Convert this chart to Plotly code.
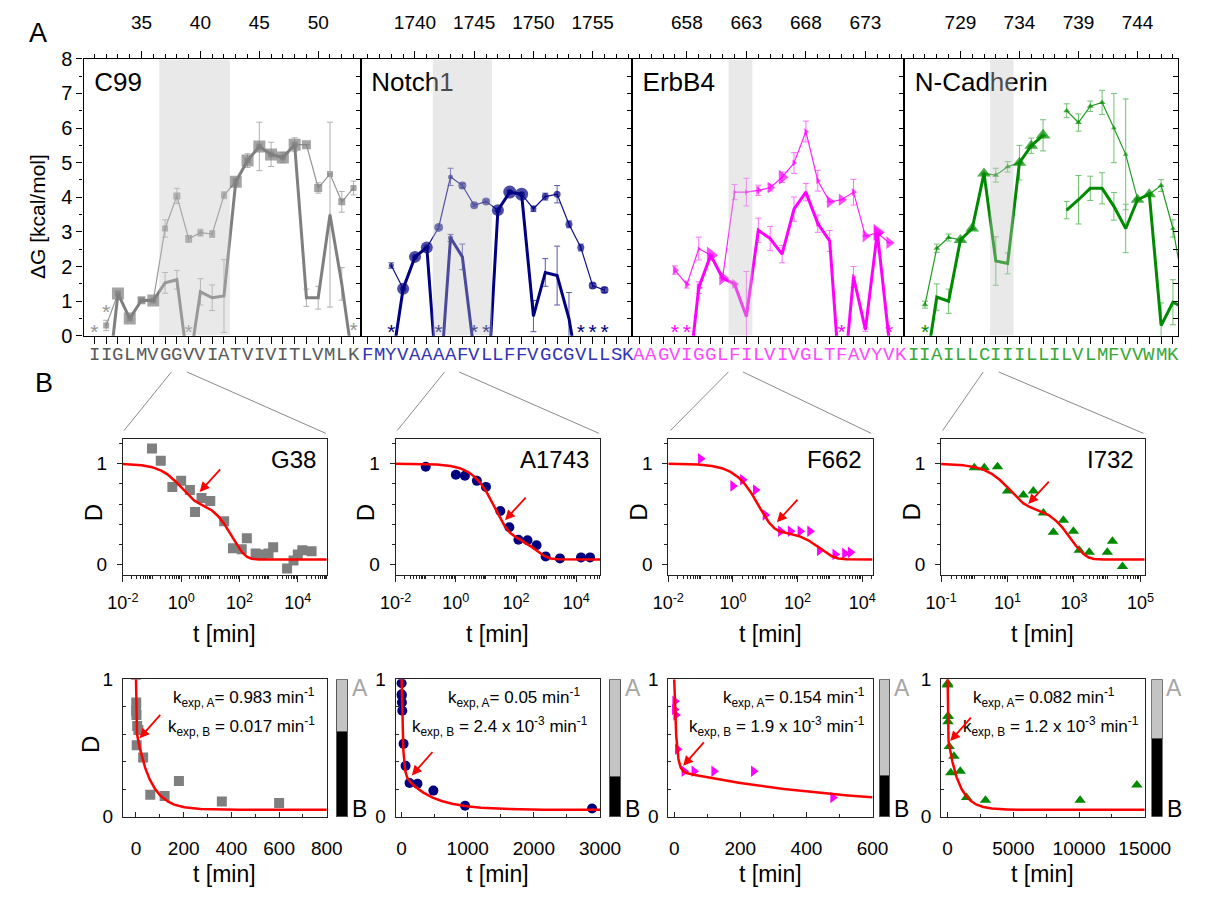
import numpy as np
import plotly.graph_objects as go

W, H = 1211, 897
SANS = "Liberation Sans, Arial, sans-serif"
MONO = "Liberation Mono, Courier New, monospace"

# ====================== Panel A data ======================
panel_names = ["C99", "Notch1", "ErbB4", "N-Cadherin"]

c99_res = list(range(31, 54))
c99_seq = list("IIGLMVGGVVIATVIVITLVMLK")
c99_thin = [None, 0.30, 1.22, 0.50, 1.03, 1.02, 3.10, 4.04, 2.80, 2.98, 2.94, 4.06,
            4.45, 5.06, 5.47, 5.24, 5.15, 5.52, 5.52, 4.27, 4.67, 3.87, 4.27]
c99_thin_err = [None, 0.15, None, None, None, None, 0.25, 0.22, 0.10, 0.10, 0.10, 0.10,
                0.10, 0.20, 0.70, 0.35, 0.15, 0.20, None, 0.15, None, 0.30, 0.20]
c99_thick = [None, -1.8, 1.22, 0.50, 1.03, 1.02, 1.53, 1.62, -1.0, 1.27, 1.10, 1.15,
             4.45, 5.06, 5.47, 5.24, 5.15, 5.52, 1.10, 1.10, 3.50, 1.50, -0.9]
c99_thick_err = [None, None, None, None, 0.05, None, 0.30, 0.27, None, 0.38, 0.37, 1.05,
                 None, None, None, None, None, None, 0.25, 0.33, 2.67, 0.47, None]
c99_star_res = [31, 32, 39, 53]
c99_star_y = [0.2, 0.77, 0.2, 0.25]

n1_res = list(range(1736, 1759))
n1_seq = list("FMYVAAAAFVLLFFVGCGVLLSK")
n1_thin = [None, None, 2.03, 1.36, 2.28, 2.55, 3.13, 4.59, 4.34, 3.77, 3.88, 3.63,
           4.15, 4.09, 3.67, 4.02, 4.09, 3.22, 2.55, 1.45, 1.32, None, None]
n1_thin_err = [None, None, 0.08, None, None, None, 0.05, 0.25, 0.07, 0.04, 0.04, None,
               0.05, 0.05, 0.08, 0.10, 0.25, 0.10, 0.10, 0.07, 0.07, None, None]
n1_thick = [None, None, -0.9, 1.36, 2.28, 2.55, -2.0, 2.83, 2.28, -0.5, -2.4, 3.63,
            4.15, 4.09, 0.57, 1.83, 1.74, 0.50, -1.5, None, None, None, None]
n1_thick_err = [None, None, None, None, None, None, None, 0.10, 0.37, None, None, None,
                None, None, 0.45, 0.40, 0.85, 0.75, None, None, None, None, None]
n1_star_res = [1738, 1742, 1745, 1746, 1754, 1755, 1756]
n1_star_y = [0.2, 0.2, 0.2, 0.2, 0.2, 0.2, 0.2]

eb_res = list(range(654, 677))
eb_seq = list("AAGVIGGLFILVIVGLTFAVYVK")
eb_thin = [None, None, None, 1.90, 1.48, 2.52, 2.33, 1.67, 4.15, 4.15, 4.20, 4.28,
           4.58, 4.99, 5.90, 4.48, 3.87, 3.93, 4.15, 2.88, 2.97, 2.69, None]
eb_thin_err = [None, None, None, 0.12, 0.10, 0.33, None, None, 0.22, 0.40, 0.15, 0.10,
               0.15, 0.30, 0.30, 0.30, None, None, 0.37, None, None, None, None]
eb_thick = [None, None, None, None, -1.7, 1.39, 2.33, 1.67, 1.50, 0.56, 3.05, 2.81,
            2.36, 3.66, 4.15, 3.24, 2.74, -2.0, 1.70, 0.18, 2.99, -0.15, None]
eb_thick_err = [None, None, None, None, None, 0.17, None, None, None, 1.30, 0.35, 0.35,
                0.25, 0.35, 0.25, 0.25, 0.30, None, 0.30, 0.05, None, None, None]
eb_star_res = [657, 658, 671, 675]
eb_star_y = [0.2, 0.2, 0.2, 0.2]

nc_res = list(range(725, 749))
nc_seq_res = list(range(725, 748))
nc_seq = list("IIAILLCIIILLILVLMFVVWMK")
nc_thin = [None, 0.90, 2.53, 2.84, 2.77, 3.10, 4.69, 4.64, 4.88, 5.00, 5.49, 5.79,
           None, 6.50, 6.16, 6.63, 6.74, 6.00, 5.24, 3.95, 4.09, 4.34, 3.10, 1.20]
nc_thin_err = [None, 0.10, 0.12, 0.10, None, None, None, 0.20, 0.15, None, None, None,
               None, 0.20, 0.25, 0.15, 0.35, 1.00, 1.60, None, None, 0.17, 0.25, None]
nc_thick = [None, -1.1, 1.12, 1.00, 2.77, 3.10, 4.69, 2.16, 2.09, 5.00, 5.49, 5.79,
            None, 3.63, 3.93, 4.26, 4.26, 3.74, 3.10, 3.93, 4.09, 0.30, 0.97, 0.80]
nc_thick_err = [None, None, 0.38, 0.35, None, None, None, 0.70, 0.30, 0.50, 0.22, 0.45,
                None, 0.25, 0.70, 0.35, 0.45, 0.40, 0.70, None, None, 0.65, 0.65, None]
nc_star_res = [726]
nc_star_y = [0.2]

shade_lo = [36.5, 1741.5, 661.5, 731.5]
shade_hi = [42.5, 1746.5, 663.5, 733.5]
top_tick0 = [35, 1740, 658, 729]

# ====================== Panel B data ======================
site_names = ["G38", "A1743", "F662", "I732"]
g38_t = [0.1, 0.2, 0.5, 1, 2, 3, 5, 10, 30, 60, 120, 180, 360, 600, 1000, 1440,
         4320, 7200, 10080, 14400, 30000]
g38_D = [1.15, 1.03, 0.77, 0.83, 0.74, 0.52, 0.66, 0.63, 0.43, 0.16, 0.15, 0.26,
         0.11, 0.10, 0.11, 0.17, -0.04, 0.04, 0.10, 0.14, 0.13]
a1743_t = [0.1, 1, 2, 5, 10, 30, 60, 120, 240, 480, 960, 2880, 14400, 28800]
a1743_D = [0.97, 0.89, 0.88, 0.83, 0.77, 0.53, 0.37, 0.245, 0.24, 0.19, 0.08, 0.06,
           0.07, 0.07]
f662_t = [0.1, 1, 2, 5, 10, 30, 60, 120, 240, 480, 1440, 2880, 4320]
f662_D = [1.05, 0.78, 0.84, 0.74, 0.49, 0.33, 0.33, 0.33, 0.33, 0.14, 0.10, 0.11, 0.12]
i732_t = [1, 2, 5, 10, 30, 60, 120, 240, 480, 960, 1440, 2880, 10080, 14400, 28800]
i732_D = [0.96, 0.96, 0.97, 0.73, 0.69, 0.73, 0.51, 0.32, 0.44, 0.33, 0.14, 0.12,
          0.12, 0.23, -0.02]

k_A = [0.983, 0.05, 0.154, 0.082]
k_B = [0.017, 2.4e-3, 1.9e-3, 1.2e-3]
frac_B = [0.62, 0.29, 0.30, 0.57]
plateau = 0.05
kA_text = ["0.983", "0.05", "0.154", "0.082"]
kB_text = ["0.017", "2.4 x 10<sup>-3</sup>", "1.9 x 10<sup>-3</sup>", "1.2 x 10<sup>-3</sup>"]

# ====================== styles ======================
colors = ["#7f7f7f", "#000080", "#ff00ff", "#008a00"]
thin_colors = ["#959595", "#10108a", "#ff22ff", "#209a20"]
err_colors = ["#b0b0b0", "#5858b0", "#ff70ff", "#72c272"]
seq_colors = ["#5a5a5a", "#3434b4", "#ff48ff", "#38a838"]
star_colors = ["#959595", "#000080", "#ff00ff", "#008a00"]
symbols = ["square", "circle", "triangle-right", "triangle-up"]

c99_thin_size = [0, 6, 6, 6, 6, 6, 6, 7, 7, 6, 6, 6, 6, 6, 6, 6, 6, 6, 9, 8, 6, 7, 6]
c99_thick_size = [0, 0, 12, 12, 8, 12, 2, 2, 0, 2, 2, 2, 12, 12, 12, 12, 12, 12, 2, 2, 2, 2, 0]
n1_thin_size = [0, 0, 5, 6, 6, 6, 9, 5, 8, 8, 8, 6, 6, 6, 6, 7, 7, 7, 7, 8, 8, 0, 0]
n1_thick_size = [0, 0, 0, 12, 12, 12, 0, 5, 2, 0, 0, 12, 13, 13, 2, 2, 2, 2, 0, 0, 0, 0, 0]
eb_thin_size = [0, 0, 0, 8, 7, 4, 6, 6, 4, 5, 8, 10, 13, 6, 6, 6, 11, 11, 7, 11, 13, 11, 0]
eb_thick_size = [0, 0, 0, 0, 0, 8, 15, 13, 9, 2, 3, 3, 2, 3, 3, 6, 2, 0, 6, 2, 15, 0, 0]
nc_thin_size = [0, 6, 6, 6, 6, 6, 6, 6, 6, 6, 6, 6, 0, 6, 6, 6, 6, 5, 5, 6, 6, 6, 5, 0]
nc_thick_size = [0, 0, 2, 2, 12, 12, 12, 2, 2, 12, 12, 13, 0, 2, 2, 2, 2, 2, 2, 12, 12, 2, 2, 0]

top_sets = [
    (c99_res, c99_res, c99_seq, c99_thin, c99_thin_err, c99_thin_size, c99_thick, c99_thick_err, c99_thick_size, c99_star_res, c99_star_y),
    (n1_res, n1_res, n1_seq, n1_thin, n1_thin_err, n1_thin_size, n1_thick, n1_thick_err, n1_thick_size, n1_star_res, n1_star_y),
    (eb_res, eb_res, eb_seq, eb_thin, eb_thin_err, eb_thin_size, eb_thick, eb_thick_err, eb_thick_size, eb_star_res, eb_star_y),
    (nc_res, nc_seq_res, nc_seq, nc_thin, nc_thin_err, nc_thin_size, nc_thick, nc_thick_err, nc_thick_size, nc_star_res, nc_star_y),
]
kin_sets = [(g38_t, g38_D), (a1743_t, a1743_D), (f662_t, f662_D), (i732_t, i732_D)]

# ====================== geometry (pixels) ======================
TOP_X = [(70, 357), (357, 638), (638, 920), (920, 1204)]
TOP_Y = (49, 333)
X_RANGES = [(30.08, 53.6), (1735.41, 1758.31), (653.38, 676.25), (724.23, 747.45)]
MID_X = [(110.7, 322), (393.3, 605), (675.7, 887.3), (958.3, 1169.3)]
MID_Y = (438.3, 577.7)
MID_RANGES = [(-2, 5), (-2, 4.79), (-2, 4.32), (-1, 5.13)]
BOT_Y = (685, 826)
BOT_RANGES = [(-55, 800), (-90, 3000), (-18, 600), (-500, 15000)]
BOT_DTICK = [200, 1000, 200, 5000]
BAR_X = [(331, 344), (614, 627), (893.5, 905.5), (1176, 1188)]


def px(p):
    return p / W


def py(p):
    return 1 - p / H


def xn(n):
    return "x" if n == 1 else f"x{n}"


def yn(n):
    return "y" if n == 1 else f"y{n}"


def xa(n):
    return "xaxis" if n == 1 else f"xaxis{n}"


def ya(n):
    return "yaxis" if n == 1 else f"yaxis{n}"


fig = go.Figure()
lay = dict(width=W, height=H, margin=dict(l=0, r=0, t=0, b=0),
           paper_bgcolor="white", plot_bgcolor="white", showlegend=False,
           barmode="stack", font=dict(family=SANS, color="black"))
shapes = []
ann = []


def add_text(xp, yp, text, size, color="black", xanchor="center", angle=0):
    ann.append(dict(x=px(xp), y=py(yp), xref="paper", yref="paper", text=text,
                    showarrow=False, xanchor=xanchor, yanchor="middle",
                    textangle=angle, font=dict(size=size, color=color, family=SANS)))


# ====================== Panel A ======================
for i in range(4):
    n, nb = i + 1, i + 5
    res, seq_res, seq, thin, thin_err, thin_size, thick, thick_err, thick_size, s_res, s_y = top_sets[i]
    lo, hi = X_RANGES[i]
    x0, x1 = TOP_X[i]
    lay[xa(n)] = dict(domain=[px(x0), px(x1)], range=[lo, hi], side="top", anchor=yn(n),
                      showline=True, linecolor="black", linewidth=1.2, mirror=True,
                      ticks="outside", tickmode="linear", tick0=top_tick0[i], dtick=5,
                      ticklen=7, tickwidth=1.2, tickcolor="black",
                      tickfont=dict(size=19), ticklabelstandoff=14,
                      minor=dict(ticks="outside", tickmode="linear", tick0=top_tick0[i],
                                 dtick=1, ticklen=3.5, tickwidth=1, tickcolor="black"),
                      showgrid=False, zeroline=False)
    lay[xa(nb)] = dict(overlaying=xn(n), side="bottom", anchor=yn(n), range=[lo, hi],
                       showline=False, ticks="outside", tickmode="linear", tick0=seq_res[0],
                       dtick=1, ticklen=7, tickwidth=1, tickcolor="black",
                       showticklabels=False, showgrid=False, zeroline=False)
    ydict = dict(domain=[py(TOP_Y[1]), py(TOP_Y[0])], range=[0, 8], anchor=xn(n),
                 showline=True, linecolor="black", linewidth=1.2, mirror=True,
                 showticklabels=(i == 0), showgrid=False, zeroline=False)
    if i == 0:
        ydict.update(ticks="outside", tickmode="linear", tick0=0, dtick=1, ticklen=6,
                     tickwidth=1.2, tickcolor="black", tickfont=dict(size=20),
                     minor=dict(ticks="outside", dtick=0.5, ticklen=3, tickcolor="black",
                                tickwidth=1))
    else:
        ydict.update(ticks="")
    lay[ya(n)] = ydict
    lay[ya(nb)] = dict(overlaying=yn(n), side="right", anchor=xn(n), range=[0, 8],
                       ticks="inside", tickmode="linear", tick0=0, dtick=0.5, ticklen=5,
                       tickwidth=1, tickcolor="black", showticklabels=False,
                       showline=False, showgrid=False, zeroline=False)

    # dummy traces to register the overlay axes
    fig.add_trace(go.Scatter(x=[None], y=[None], xaxis=xn(nb), yaxis=yn(n), hoverinfo="skip"))
    fig.add_trace(go.Scatter(x=[None], y=[None], xaxis=xn(n), yaxis=yn(nb), hoverinfo="skip"))

    # panel title
    fig.add_trace(go.Scatter(x=[lo + 0.9], y=[7.25], mode="text", text=[panel_names[i]],
                             textposition="middle right",
                             textfont=dict(size=26, color="black", family=SANS),
                             xaxis=xn(n), yaxis=yn(n), hoverinfo="skip"))
    # thin series
    fig.add_trace(go.Scatter(
        x=res, y=thin, mode="lines+markers", xaxis=xn(n), yaxis=yn(n),
        line=dict(color=thin_colors[i], width=1.2),
        marker=dict(symbol=symbols[i], size=thin_size, color=colors[i], line=dict(width=0)),
        error_y=dict(type="data", array=thin_err, visible=True, color=err_colors[i],
                     thickness=1, width=3),
        hoverinfo="skip"))
    # thick series
    fig.add_trace(go.Scatter(
        x=res, y=thick, mode="lines+markers", xaxis=xn(n), yaxis=yn(n),
        line=dict(color=colors[i], width=3),
        marker=dict(symbol=symbols[i], size=thick_size, color=colors[i], line=dict(width=0)),
        error_y=dict(type="data", array=thick_err, visible=True, color=err_colors[i],
                     thickness=1, width=3),
        hoverinfo="skip"))
    # stars (no determinable value)
    fig.add_trace(go.Scatter(x=s_res, y=[v - 0.13 for v in s_y], mode="text",
                             text=["*"] * len(s_res), textposition="middle center",
                             textfont=dict(size=21, color=star_colors[i], family=SANS),
                             xaxis=xn(n), yaxis=yn(n), cliponaxis=False, hoverinfo="skip"))
    # sequence letters (annotations anchored on the residue axis)
    for r, letter in zip(seq_res, seq):
        ann.append(dict(x=r, y=py(353), xref=xn(n), yref="paper", text=letter,
                        showarrow=False, xanchor="center", yanchor="middle",
                        font=dict(size=19, color=seq_colors[i], family=MONO)))
    shapes.append(dict(type="rect", xref=xn(n), yref="paper", x0=shade_lo[i], x1=shade_hi[i],
                       y0=py(332.4), y1=py(49.6), fillcolor="rgb(197,197,197)",
                       opacity=0.375, line=dict(width=0), layer="above"))

# ====================== Panel B: log-time row ======================
for i in range(4):
    n = 9 + i
    lo, hi = MID_RANGES[i]
    x0, x1 = MID_X[i]
    decs = [d for d in range(int(np.floor(lo)), int(np.ceil(hi)) + 1) if lo <= d <= hi]
    lab_decs = [d for d in decs if (d - lo) % 2 == 0]
    odd_decs = [d for d in decs if (d - lo) % 2 != 0]
    tickvals = [10.0 ** d for d in lab_decs]
    ticktext = [f"10<sup>{d}</sup>" for d in lab_decs]
    minor_vals = [m * 10.0 ** d for d in range(int(np.floor(lo)), int(np.ceil(hi)) + 1)
                  for m in range(2, 10) if lo <= np.log10(m * 10.0 ** d) <= hi]
    minor_vals += [10.0 ** d for d in odd_decs]
    lay[xa(n)] = dict(type="log", domain=[px(x0), px(x1)], range=[lo, hi], anchor=yn(n),
                      showline=True, linecolor="#222", linewidth=1, mirror=True,
                      ticks="outside", tickmode="array", tickvals=tickvals, ticktext=ticktext,
                      ticklen=6, tickwidth=1, tickcolor="#222", tickfont=dict(size=18),
                      ticklabelstandoff=6,
                      minor=dict(tickmode="array", tickvals=sorted(minor_vals), ticks="outside",
                                 ticklen=3.5, tickwidth=1, tickcolor="#222"),
                      showgrid=False, zeroline=False)
    lay[ya(n)] = dict(domain=[py(MID_Y[1]), py(MID_Y[0])], range=[-0.1, 1.25], anchor=xn(n),
                      showline=True, linecolor="#222", linewidth=1, mirror=True,
                      ticks="outside", tickmode="array", tickvals=[0, 1], ticktext=["0", "1"],
                      ticklen=5, tickwidth=1, tickcolor="#222", tickfont=dict(size=19),
                      ticklabelstandoff=6,
                      minor=dict(tickmode="array", tickvals=[0.2, 0.4, 0.6, 0.8, 1.2],
                                 ticks="outside", ticklen=3, tickwidth=1, tickcolor="#222"),
                      showgrid=False, zeroline=False)
    t, D = kin_sets[i]
    fig.add_trace(go.Scatter(x=t, y=D, mode="markers", xaxis=xn(n), yaxis=yn(n),
                             marker=dict(symbol=symbols[i], size=10, color=colors[i]),
                             hoverinfo="skip"))
    A = (1 - frac_B[i]) * (1 - plateau)
    B = frac_B[i] * (1 - plateau)
    tf = np.logspace(lo, hi, 500)
    Df = A * np.exp(-k_A[i] * tf) + B * np.exp(-k_B[i] * tf) + plateau
    fig.add_trace(go.Scatter(x=tf, y=Df, mode="lines", xaxis=xn(n), yaxis=yn(n),
                             line=dict(color="red", width=2.5), hoverinfo="skip"))
    add_text(x1 - 9, 460, site_names[i], 24, xanchor="right")
    add_text(x0 - 31, 514, "D", 24, angle=-90)
    add_text((x0 + x1) / 2, 639, "t [min]", 23)

# ====================== Panel B: linear-time row ======================
for i in range(4):
    n = 13 + i
    lo, hi = BOT_RANGES[i]
    x0, x1 = MID_X[i]
    lay[xa(n)] = dict(domain=[px(x0), px(x1)], range=[lo, hi], anchor=yn(n),
                      showline=True, linecolor="#222", linewidth=1, mirror=True,
                      ticks="inside", tickmode="linear", tick0=0, dtick=BOT_DTICK[i],
                      tickformat="d",
                      ticklen=5, tickwidth=1, tickcolor="#222", tickfont=dict(size=19),
                      ticklabelstandoff=14,
                      minor=dict(ticks="inside", tickmode="linear", tick0=0,
                                 dtick=BOT_DTICK[i] / 2, ticklen=3, tickwidth=1,
                                 tickcolor="#222"),
                      showgrid=False, zeroline=False)
    lay[ya(n)] = dict(domain=[py(BOT_Y[1]), py(BOT_Y[0])], range=[0, 1], anchor=xn(n),
                      showline=True, linecolor="#222", linewidth=1, mirror=True,
                      ticks="inside", tickmode="array", tickvals=[0, 1], ticktext=["0", "1"],
                      ticklen=5, tickwidth=1, tickcolor="#222", tickfont=dict(size=19),
                      ticklabelstandoff=5,
                      minor=dict(tickmode="array", tickvals=[0.2, 0.4, 0.6, 0.8],
                                 ticks="inside", ticklen=3, tickwidth=1, tickcolor="#222"),
                      showgrid=False, zeroline=False)
    t, D = kin_sets[i]
    fig.add_trace(go.Scatter(x=t, y=D, mode="markers", xaxis=xn(n), yaxis=yn(n),
                             marker=dict(symbol=symbols[i], size=10, color=colors[i]),
                             hoverinfo="skip"))
    A = (1 - frac_B[i]) * (1 - plateau)
    B = frac_B[i] * (1 - plateau)
    tf = np.linspace(0, hi, 1500)
    Df = A * np.exp(-k_A[i] * tf) + B * np.exp(-k_B[i] * tf) + plateau
    fig.add_trace(go.Scatter(x=tf, y=Df, mode="lines", xaxis=xn(n), yaxis=yn(n),
                             line=dict(color="red", width=2.5), hoverinfo="skip"))
    add_text((x0 + x1) / 2, 885, "t [min]", 23)
    # amplitude bar
    nbar = 17 + i
    b0, b1 = BAR_X[i]
    lay[xa(nbar)] = dict(domain=[px(b0), px(b1)], range=[-0.55, 0.55], anchor=yn(nbar),
                         visible=False)
    lay[ya(nbar)] = dict(domain=[py(BOT_Y[1]), py(BOT_Y[0])], range=[0, 1], anchor=xn(nbar),
                         visible=False)
    fig.add_trace(go.Bar(x=[0], y=[frac_B[i]], width=1, xaxis=xn(nbar), yaxis=yn(nbar),
                         marker=dict(color="black", line=dict(color="#555", width=1)),
                         hoverinfo="skip"))
    fig.add_trace(go.Bar(x=[0], y=[1 - frac_B[i]], width=1, xaxis=xn(nbar), yaxis=yn(nbar),
                         marker=dict(color="#c4c4c4", line=dict(color="#555", width=1)),
                         hoverinfo="skip"))
    add_text(b1 + 12, 694, "A", 23, color="#a6a6a6")
    add_text(b1 + 12, 818, "B", 23, color="black")

# k annotations
k_right1 = [312, 586, 882, 1141]
k_right2 = [312, 595, 882, 1165]
for i in range(4):
    add_text(k_right1[i], 704, f"k<sub>exp, A</sub>= {kA_text[i]} min<sup>-1</sup>", 17,
             xanchor="right")
    add_text(k_right2[i], 733, f"k<sub>exp, B</sub> = {kB_text[i]} min<sup>-1</sup>", 17,
             xanchor="right")

# red arrows (middle row: log axes -> log10 x)
mid_heads = [(4.3, 0.72), (43, 0.44), (23, 0.42), (42, 0.60)]
for i, (tx, dy) in enumerate(mid_heads):
    n = 9 + i
    ann.append(dict(x=np.log10(tx), y=dy, xref=xn(n), yref=yn(n), ax=22, ay=-24,
                    showarrow=True, arrowhead=2, arrowsize=1.1, arrowwidth=1.8,
                    arrowcolor="red", text=""))
bot_heads = [(15, 0.57), (154, 0.30), (27, 0.37), (198, 0.55)]
for i, (tx, dy) in enumerate(bot_heads):
    n = 13 + i
    ann.append(dict(x=tx, y=dy, xref=xn(n), yref=yn(n), ax=22, ay=-25,
                    showarrow=True, arrowhead=2, arrowsize=1.1, arrowwidth=1.8,
                    arrowcolor="red", text=""))

# panel letters & axis titles
add_text(23, 23, "A", 27)
add_text(29, 381, "B", 27)
add_text(23, 211, "ΔG [kcal/mol]", 21, angle=-90)
add_text(77, 752, "D", 24, angle=-90)

# connector lines from the sequence to the zoomed kinetics panels
conn = [((161, 370), (112, 430), (177, 370), (321, 433)),
        ((444, 370), (395, 430), (459, 370), (604, 433)),
        ((738, 370), (678, 430), (753, 370), (886, 433)),
        ((1002, 370), (960, 430), (1018, 370), (1168, 433))]
for a0, a1, b0_, b1_ in conn:
    for p0, p1 in ((a0, a1), (b0_, b1_)):
        shapes.append(dict(type="line", xref="paper", yref="paper", x0=px(p0[0]), y0=py(p0[1]),
                           x1=px(p1[0]), y1=py(p1[1]), line=dict(color="#8a8a8a", width=1)))

lay["shapes"] = shapes
lay["annotations"] = ann
fig.update_layout(**lay)
fig.write_html("out.html")
